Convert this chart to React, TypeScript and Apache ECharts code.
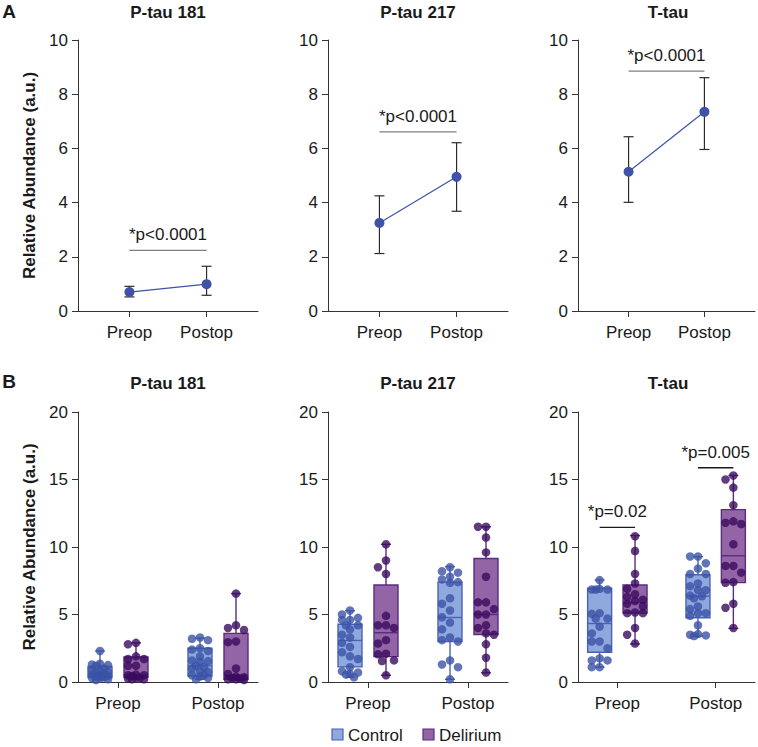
import React, { useEffect, useRef } from 'react';
import * as echarts from 'echarts';

// ---------- categories ----------
const groups = ['Preop', 'Postop'];
const markers = ['P-tau 181', 'P-tau 217', 'T-tau'];
const cohorts = ['Control', 'Delirium'];

// ---------- Panel A : mean with error bars ----------
const meanPre = [0.7, 3.25, 5.14];
const meanPost = [0.99, 4.95, 7.35];
const errLowPre = [0.52, 2.12, 4.01];
const errHighPre = [0.91, 4.25, 6.43];
const errLowPost = [0.58, 3.68, 5.96];
const errHighPost = [1.65, 6.21, 8.61];
const sigTextA = ['*p<0.0001', '*p<0.0001', '*p<0.0001'];
const sigLevelA = [2.24, 6.61, 8.85];
const yMaxA = 10;
const yStepA = 2;

// ---------- Panel B : individual values ----------
// P-tau 181
const p181CtrlPre = [2.3, 1.35, 1.3, 1.25, 1.2, 1.0, 0.9, 0.8, 0.75, 0.7, 0.6, 0.55, 0.5, 0.45, 0.4, 0.35, 0.3, 0.25, 0.2, 0.15];
const p181DelPre = [2.9, 2.8, 1.9, 1.7, 1.7, 1.2, 1.2, 0.55, 0.5, 0.5, 0.45, 0.3, 0.3, 0.25, 0.2, 0.2];
const p181CtrlPost = [3.3, 3.2, 3.1, 2.5, 2.4, 2.3, 1.9, 1.6, 1.55, 1.5, 1.2, 1.1, 1.0, 0.8, 0.75, 0.5, 0.5, 0.4, 0.3, 0.2];
const p181DelPost = [6.55, 4.2, 4.0, 3.85, 3.0, 2.95, 1.0, 0.6, 0.4, 0.35, 0.3, 0.25, 0.2, 0.2, 0.15];
// P-tau 217
const p217CtrlPre = [5.3, 5.0, 4.75, 4.6, 4.6, 4.2, 4.2, 3.9, 3.5, 3.3, 2.9, 2.6, 2.2, 1.9, 1.7, 1.1, 0.8, 0.7, 0.6, 0.55, 0.35];
const p217DelPre = [10.2, 9.0, 8.5, 8.0, 4.9, 4.2, 4.2, 4.0, 3.1, 2.85, 2.1, 2.05, 1.6, 1.55, 0.5];
const p217CtrlPost = [8.5, 8.2, 8.1, 7.8, 7.6, 7.4, 7.35, 6.2, 5.8, 5.3, 4.8, 4.4, 3.9, 3.3, 3.1, 3.0, 1.6, 1.3, 1.1, 0.2];
const p217DelPost = [11.5, 11.5, 10.7, 9.6, 7.8, 5.9, 5.9, 5.4, 5.0, 5.0, 4.2, 4.0, 3.6, 3.5, 2.8, 1.8, 0.7];
// T-tau
const ttCtrlPre = [7.55, 6.9, 6.85, 6.85, 6.85, 5.1, 5.05, 4.7, 4.7, 4.1, 3.6, 3.0, 3.0, 2.5, 1.75, 1.6, 1.6, 1.1, 1.1];
const ttDelPre = [10.8, 9.7, 8.0, 7.3, 6.9, 6.5, 6.3, 6.1, 6.0, 5.8, 5.6, 5.15, 5.1, 5.1, 4.0, 3.5, 2.85];
const ttCtrlPost = [9.3, 9.3, 8.8, 8.4, 8.0, 8.0, 7.3, 7.1, 6.8, 6.8, 6.4, 6.35, 6.2, 5.6, 5.4, 5.1, 5.1, 4.9, 4.2, 3.55, 3.5, 3.45, 3.4];
const ttDelPost = [15.3, 15.0, 14.4, 13.1, 11.9, 11.8, 11.7, 10.2, 8.6, 8.6, 8.1, 7.4, 7.35, 5.8, 5.5, 4.0];

// box statistics [min, Q1, median, Q3, max]
const p181CtrlBox = [[0.15, 0.35, 0.6, 1.15, 2.3], [0.2, 0.45, 1.2, 2.5, 3.25]];
const p181DelBox = [[0.2, 0.35, 0.55, 1.85, 2.9], [0.15, 0.2, 0.5, 3.6, 6.55]];
const p217CtrlBox = [[0.35, 1.12, 3.08, 4.28, 5.28], [0.2, 3.0, 4.78, 7.4, 8.55]];
const p217DelBox = [[0.5, 1.88, 3.65, 7.18, 10.2], [0.68, 3.52, 5.0, 9.15, 11.5]];
const ttCtrlBox = [[1.1, 2.2, 4.33, 6.95, 7.55], [3.4, 4.76, 6.36, 7.94, 9.28]];
const ttDelBox = [[2.82, 5.1, 5.87, 7.18, 10.85], [3.97, 7.36, 9.35, 12.77, 15.3]];

// significance annotations (T-tau only): [label, level]
const sigTextB = ['*p=0.02', '*p=0.005'];
const sigLevelB = [11.46, 15.87];
const yMaxB = 20;
const yStepB = 5;

// ---------- layout constants ----------
const FONT = '"Liberation Sans", Arial, Helvetica, sans-serif';
const gridLefts = [78, 328, 578];
const gridWidth = 180;
const A_SLOTS = 8;
const A_POS = [2, 5];
const B_SLOTS = 10;
const B_POS = [2, 7];
const B_OFF = 0.9;
const B_PX_X = gridWidth / (B_SLOTS - 1);
const B_PX_Y = 270 / yMaxB;

const C_LINE = '#3f51a8';
const C_CTRL_DOT = '#3b52a5';
const C_DEL_DOT = '#3a0b5e';
const C_CTRL_FILL = '#8fa9df';
const C_CTRL_STROKE = '#4b62b3';
const C_DEL_FILL = '#9365a6';
const C_DEL_STROKE = '#5a2d7d';
const C_AXIS = '#333';
const C_TEXT = '#1a1a1a';

function swarm(values: number[]): number[] {
  const cands = [0, -8, 8, -4, 4];
  const diam = 8;
  const placed: { v: number; o: number }[] = [];
  return values.map((v) => {
    let best = cands[0];
    let bestD = -1;
    for (const c of cands) {
      let minD = Infinity;
      for (const p of placed) {
        const d = Math.hypot(c - p.o, (v - p.v) * B_PX_Y);
        if (d < minD) minD = d;
      }
      if (minD >= diam) {
        best = c;
        break;
      }
      if (minD > bestD) {
        bestD = minD;
        best = c;
      }
    }
    placed.push({ v, o: best });
    return best / B_PX_X;
  });
}

function catAxis(gridIndex: number, slots: number, pos: number[]) {
  return {
    type: 'category',
    gridIndex,
    boundaryGap: false,
    data: Array.from({ length: slots }, (_, i) => String(i)),
    axisLine: { lineStyle: { color: C_AXIS, width: 1 } },
    axisTick: {
      show: true,
      length: 6,
      lineStyle: { color: C_AXIS },
      interval: (idx: number) => pos.includes(idx),
    },
    axisLabel: {
      interval: 0,
      margin: 13,
      fontSize: 17,
      fontFamily: FONT,
      color: C_TEXT,
      formatter: (v: string) => {
        const g = pos.indexOf(Number(v));
        return g >= 0 ? groups[g] : '';
      },
    },
    splitLine: { show: false },
  };
}

function valAxisX(gridIndex: number, slots: number) {
  return { type: 'value', gridIndex, min: 0, max: slots - 1, show: false };
}

function yAxis(gridIndex: number, max: number, step: number, named: boolean) {
  return {
    type: 'value',
    gridIndex,
    min: 0,
    max,
    interval: step,
    name: named ? 'Relative Abundance (a.u.)' : '',
    nameLocation: 'middle',
    nameGap: 40,
    nameTextStyle: { fontSize: 17, fontWeight: 'bold', fontFamily: FONT, color: C_TEXT },
    axisLine: { show: true, lineStyle: { color: C_AXIS, width: 1 } },
    axisTick: { show: true, length: 6, lineStyle: { color: C_AXIS } },
    axisLabel: { fontSize: 17, fontFamily: FONT, color: C_TEXT, margin: 10 },
    splitLine: { show: false },
  };
}

function textStyle(text: string, weight = 'normal', size = 17) {
  return {
    text,
    fill: C_TEXT,
    font: `${weight} ${size}px ${FONT}`,
    fontSize: size,
    fontWeight: weight,
    fontFamily: FONT,
    align: 'center',
    textAlign: 'center',
    verticalAlign: 'bottom',
    textVerticalAlign: 'bottom',
  };
}

function sigSeries(xi: number, yi: number, items: number[][], labels: string[], color: string) {
  return {
    type: 'custom',
    xAxisIndex: xi,
    yAxisIndex: yi,
    z: 4,
    silent: true,
    data: items,
    renderItem: (params: any, api: any) => {
      const a = api.coord([api.value(0), api.value(2)]);
      const b = api.coord([api.value(1), api.value(2)]);
      return {
        type: 'group',
        children: [
          { type: 'line', shape: { x1: a[0], y1: a[1], x2: b[0], y2: b[1] }, style: { stroke: color, lineWidth: 1.3 } },
          {
            type: 'text',
            x: (a[0] + b[0]) / 2,
            y: a[1] - 7,
            style: textStyle(labels[params.dataIndex]),
          },
        ],
      };
    },
  };
}

function errorSeries(xi: number, yi: number, items: number[][]) {
  return {
    type: 'custom',
    xAxisIndex: xi,
    yAxisIndex: yi,
    z: 2,
    silent: true,
    data: items,
    renderItem: (params: any, api: any) => {
      const x = api.value(0);
      const lo = api.coord([x, api.value(1)]);
      const hi = api.coord([x, api.value(2)]);
      const cap = 5;
      const st = { stroke: '#2b2b2b', lineWidth: 1.2 };
      return {
        type: 'group',
        children: [
          { type: 'line', shape: { x1: lo[0], y1: lo[1], x2: hi[0], y2: hi[1] }, style: st },
          { type: 'line', shape: { x1: lo[0] - cap, y1: lo[1], x2: lo[0] + cap, y2: lo[1] }, style: st },
          { type: 'line', shape: { x1: hi[0] - cap, y1: hi[1], x2: hi[0] + cap, y2: hi[1] }, style: st },
        ],
      };
    },
  };
}

function boxSeries(name: string, xi: number, yi: number, boxes: number[][], offset: number, fill: string, stroke: string) {
  return {
    name,
    type: 'custom',
    xAxisIndex: xi,
    yAxisIndex: yi,
    z: 2,
    silent: true,
    data: boxes.map((b, g) => [B_POS[g] + offset, ...b]),
    encode: { x: 0, y: [1, 2, 3, 4, 5] },
    renderItem: (params: any, api: any) => {
      const x = api.value(0);
      const c = (i: number) => api.coord([x, api.value(i)]);
      const [cx, yMin] = c(1);
      const yQ1 = c(2)[1];
      const yMed = c(3)[1];
      const yQ3 = c(4)[1];
      const yMax = c(5)[1];
      const hw = 12;
      const cap = 5;
      const st = { stroke, lineWidth: 1.4 };
      return {
        type: 'group',
        children: [
          { type: 'line', shape: { x1: cx, y1: yMax, x2: cx, y2: yQ3 }, style: st },
          { type: 'line', shape: { x1: cx, y1: yQ1, x2: cx, y2: yMin }, style: st },
          { type: 'line', shape: { x1: cx - cap, y1: yMax, x2: cx + cap, y2: yMax }, style: st },
          { type: 'line', shape: { x1: cx - cap, y1: yMin, x2: cx + cap, y2: yMin }, style: st },
          { type: 'rect', shape: { x: cx - hw, y: yQ3, width: 2 * hw, height: yQ1 - yQ3 }, style: { fill, stroke, lineWidth: 1.4 } },
          { type: 'line', shape: { x1: cx - hw, y1: yMed, x2: cx + hw, y2: yMed }, style: st },
        ],
      };
    },
  };
}

function dotSeries(name: string, xi: number, yi: number, sets: number[][], offset: number, color: string) {
  const data: number[][] = [];
  sets.forEach((vals, g) => {
    const offs = swarm(vals);
    vals.forEach((v, i) => data.push([B_POS[g] + offset + offs[i], v]));
  });
  return {
    name,
    type: 'scatter',
    xAxisIndex: xi,
    yAxisIndex: yi,
    z: 3,
    symbol: 'circle',
    symbolSize: 8.5,
    itemStyle: { color },
    data,
  };
}

const ctrlPoints = [
  [p181CtrlPre, p181CtrlPost],
  [p217CtrlPre, p217CtrlPost],
  [ttCtrlPre, ttCtrlPost],
];
const delPoints = [
  [p181DelPre, p181DelPost],
  [p217DelPre, p217DelPost],
  [ttDelPre, ttDelPost],
];
const ctrlBoxes = [p181CtrlBox, p217CtrlBox, ttCtrlBox];
const delBoxes = [p181DelBox, p217DelBox, ttDelBox];

function buildOption() {
  const grid: any[] = [];
  const xAxis: any[] = [];
  const yAx: any[] = [];
  const series: any[] = [];
  const graphic: any[] = [];

  // Row A
  markers.forEach((m, k) => {
    const gi = k;
    grid.push({ left: gridLefts[k], width: gridWidth, top: 40, height: 271 });
    xAxis.push(catAxis(gi, A_SLOTS, A_POS));
    xAxis.push(valAxisX(gi, A_SLOTS));
    yAx.push(yAxis(gi, yMaxA, yStepA, k === 0));
    const xi = 2 * gi + 1;
    series.push(errorSeries(xi, gi, [
      [A_POS[0], errLowPre[k], errHighPre[k]],
      [A_POS[1], errLowPost[k], errHighPost[k]],
    ]));
    series.push({
      type: 'line',
      xAxisIndex: xi,
      yAxisIndex: gi,
      z: 3,
      symbol: 'circle',
      symbolSize: 10,
      itemStyle: { color: C_LINE },
      lineStyle: { color: C_LINE, width: 1.2 },
      data: [
        [A_POS[0], meanPre[k]],
        [A_POS[1], meanPost[k]],
      ],
    });
    series.push(sigSeries(xi, gi, [[A_POS[0], A_POS[1], sigLevelA[k]]], [sigTextA[k]], '#7f7f7f'));
    graphic.push({ type: 'text', x: gridLefts[k] + gridWidth / 2, y: 21, style: textStyle(m, 'bold') });
  });

  // Row B
  markers.forEach((m, k) => {
    const gi = 3 + k;
    grid.push({ left: gridLefts[k], width: gridWidth, top: 412, height: 270 });
    xAxis.push(catAxis(gi, B_SLOTS, B_POS));
    xAxis.push(valAxisX(gi, B_SLOTS));
    yAx.push(yAxis(gi, yMaxB, yStepB, k === 0));
    const xi = 2 * gi + 1;
    series.push(boxSeries(cohorts[0], xi, gi, ctrlBoxes[k], -B_OFF, C_CTRL_FILL, C_CTRL_STROKE));
    series.push(boxSeries(cohorts[1], xi, gi, delBoxes[k], B_OFF, C_DEL_FILL, C_DEL_STROKE));
    series.push(dotSeries(cohorts[0], xi, gi, ctrlPoints[k], -B_OFF, C_CTRL_DOT));
    series.push(dotSeries(cohorts[1], xi, gi, delPoints[k], B_OFF, C_DEL_DOT));
    if (k === 2) {
      series.push(sigSeries(xi, gi, B_POS.map((p, g) => [p - B_OFF, p + B_OFF, sigLevelB[g]]), sigTextB, '#1a1a1a'));
    }
    graphic.push({ type: 'text', x: gridLefts[k] + gridWidth / 2, y: 392, style: textStyle(m, 'bold') });
  });

  // panel letters
  graphic.push({ type: 'text', x: 9, y: 21, style: textStyle('A', 'bold', 19) });
  graphic.push({ type: 'text', x: 9, y: 391, style: textStyle('B', 'bold', 19) });

  // legend
  const legendItems = [
    { name: cohorts[0], x: 332, fill: C_CTRL_FILL, stroke: C_CTRL_STROKE },
    { name: cohorts[1], x: 423, fill: C_DEL_FILL, stroke: C_DEL_STROKE },
  ];
  legendItems.forEach((it) => {
    graphic.push({ type: 'rect', shape: { x: it.x, y: 729, width: 11, height: 11 }, style: { fill: it.fill, stroke: it.stroke, lineWidth: 1.2 } });
    graphic.push({
      type: 'text',
      x: it.x + 16,
      y: 735,
      style: {
        ...textStyle(it.name),
        align: 'left',
        textAlign: 'left',
        verticalAlign: 'middle',
        textVerticalAlign: 'middle',
      },
    });
  });

  return {
    animation: false,
    backgroundColor: '#ffffff',
    grid,
    xAxis,
    yAxis: yAx,
    series,
    graphic,
  };
}

export default function App() {
  const ref = useRef<HTMLDivElement>(null);
  useEffect(() => {
    if (!ref.current) return;
    const chart = echarts.init(ref.current, undefined, { renderer: 'svg' });
    chart.setOption(buildOption() as any);
    return () => chart.dispose();
  }, []);
  return (
    <div
      ref={ref}
      style={{ position: 'absolute', left: 0, top: 0, width: 758, height: 747, background: '#fff' }}
    />
  );
}
